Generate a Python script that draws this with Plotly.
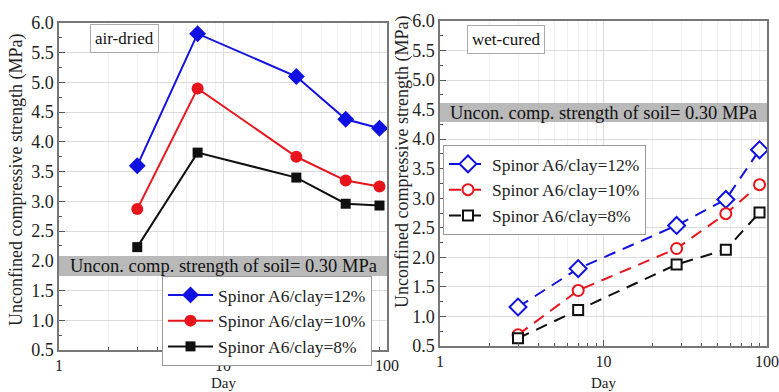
import plotly.graph_objects as go

days = [3, 7, 28, 56, 90]
series_names = ["Spinor A6/clay=12%", "Spinor A6/clay=10%", "Spinor A6/clay=8%"]
air_12 = [3.60, 5.82, 5.10, 4.38, 4.23]
air_10 = [2.87, 4.90, 3.75, 3.35, 3.25]
air_8 = [2.23, 3.82, 3.40, 2.96, 2.93]
wet_12 = [1.16, 1.81, 2.54, 2.98, 3.82]
wet_10 = [0.69, 1.44, 2.15, 2.74, 3.23]
wet_8 = [0.63, 1.11, 1.88, 2.13, 2.76]
soil_label = "Uncon. comp. strength of soil= 0.30 MPa"
x_ticks = [1, 10, 100]
x_minor = [2, 3, 4, 5, 6, 7, 8, 9, 20, 30, 40, 50, 60, 70, 80, 90]
y_ticks = [0.5, 1.0, 1.5, 2.0, 2.5, 3.0, 3.5, 4.0, 4.5, 5.0, 5.5, 6.0]
y_title = "Unconfined compressive strength (MPa)"
x_title = "Day"

FONT = "Liberation Serif, Times New Roman, serif"
colors = ["#1010e0", "#e8141c", "#101010"]
fill_sym = ["diamond", "circle", "square"]
fill_size = [13, 12, 10]
open_size = [13, 11, 10]

fig = go.Figure()
for vals, name, c, s, sz in zip([air_12, air_10, air_8], series_names, colors, fill_sym, fill_size):
    fig.add_trace(go.Scatter(x=days, y=vals, name=name, mode="lines+markers",
                             line=dict(color=c, width=2),
                             marker=dict(symbol=s, size=sz, color=c),
                             xaxis="x", yaxis="y", legend="legend"))
for vals, name, c, s, sz in zip([wet_12, wet_10, wet_8], series_names, colors, fill_sym, open_size):
    fig.add_trace(go.Scatter(x=days, y=vals, name=name, mode="lines+markers",
                             line=dict(color=c, width=2, dash="12px,8px"),
                             marker=dict(symbol=s, size=sz, color="white",
                                         line=dict(color=c, width=2)),
                             xaxis="x2", yaxis="y2", legend="legend2"))

W, H = 779, 392
L1 = (59 / W, 387 / W)
L1y = ((H - 350) / H, (H - 23) / H)
R1 = (440 / W, 767 / W)
R1y = ((H - 346) / H, (H - 21) / H)

def xaxis(dom, anchor):
    return dict(domain=dom, anchor=anchor, type="log", range=[0, 2],
                tickvals=x_ticks, ticktext=[str(v) for v in x_ticks],
                ticks="inside", ticklen=6, tickcolor="#555",
                showline=True, linecolor="#777", linewidth=1.5, mirror=True,
                showgrid=True, gridcolor="#dcdcdc", gridwidth=1,
                minor=dict(tickvals=x_minor, ticks="inside", ticklen=3, tickcolor="#555",
                           showgrid=True, gridcolor="#f2f2f2"),
                tickfont=dict(family=FONT, size=16, color="#222"),
                automargin=False, zeroline=False)

def yaxis(dom, anchor):
    return dict(domain=dom, anchor=anchor, range=[0.5, 6.0],
                tickvals=y_ticks, ticktext=["%.1f" % v for v in y_ticks],
                ticks="inside", ticklen=6, tickcolor="#555",
                showline=True, linecolor="#777", linewidth=1.5, mirror=True,
                showgrid=True, gridcolor="#dcdcdc", gridwidth=1,
                minor=dict(ticks="inside", ticklen=3, tickcolor="#555", dtick=0.25, showgrid=False),
                tickfont=dict(family=FONT, size=18, color="#222"),
                automargin=False, zeroline=False)

legend_common = dict(bgcolor="white", bordercolor="#999", borderwidth=1,
                     font=dict(family=FONT, size=17.5, color="#222"),
                     tracegroupgap=0, itemsizing="trace", xanchor="left", yanchor="top")

fig.update_layout(
    width=W, height=H, margin=dict(l=0, r=0, t=0, b=0, autoexpand=False),
    paper_bgcolor="white", plot_bgcolor="white",
    xaxis=xaxis(L1, "y"), yaxis=yaxis(L1y, "x"),
    xaxis2=xaxis(R1, "y2"), yaxis2=yaxis(R1y, "x2"),
    legend=dict(x=162 / W, y=(H - 276) / H, itemwidth=45, **legend_common),
    legend2=dict(x=443 / W, y=(H - 145) / H, itemwidth=38, **legend_common),
    showlegend=True,
)

# axis titles
for xc, yc in [(17, 180), (403, 162)]:
    fig.add_annotation(text=y_title, xref="paper", yref="paper", x=xc / W, y=(H - yc) / H,
                       xanchor="center", yanchor="middle", textangle=-90, showarrow=False,
                       font=dict(family=FONT, size=18, color="#222"))
for xc in [(L1[0] + L1[1]) / 2, (R1[0] + R1[1]) / 2]:
    fig.add_annotation(text=x_title, xref="paper", yref="paper", x=xc, y=0,
                       xanchor="center", yanchor="bottom", showarrow=False, borderpad=0,
                       font=dict(family=FONT, size=15, color="#222"))

# grey bands with soil strength text
for xr, y0, y1, xc in [("x domain", 256, 276, (L1[0] + L1[1]) / 2), ("x2 domain", 103, 122, (R1[0] + R1[1]) / 2)]:
    fig.add_shape(type="rect", xref=xr, yref="paper", x0=0, x1=1,
                  y0=(H - y1) / H, y1=(H - y0) / H,
                  fillcolor="#b9b9b9", line=dict(width=0), layer="above")
    fig.add_annotation(text=soil_label, xref="paper", yref="paper", x=xc,
                       y=(H - (y0 + y1) / 2) / H, xanchor="center", yanchor="middle",
                       showarrow=False, font=dict(family=FONT, size=18.5, color="#111"))

fig.add_annotation(text="air-dried", xref="paper", yref="paper", x=90 / W, y=(H - 24) / H,
                   xanchor="left", yanchor="top", showarrow=False, bgcolor="white",
                   bordercolor="#aaa", borderwidth=1, borderpad=4,
                   font=dict(family=FONT, size=17, color="#111"))
fig.add_annotation(text="wet-cured", xref="paper", yref="paper", x=467 / W, y=(H - 25) / H,
                   xanchor="left", yanchor="top", showarrow=False, bgcolor="white",
                   bordercolor="#aaa", borderwidth=1, borderpad=4,
                   font=dict(family=FONT, size=17, color="#111"))

fig.write_html("out.html", config={"displayModeBar": False},
               post_script="document.body.style.margin='0';document.body.style.overflow='hidden';")
